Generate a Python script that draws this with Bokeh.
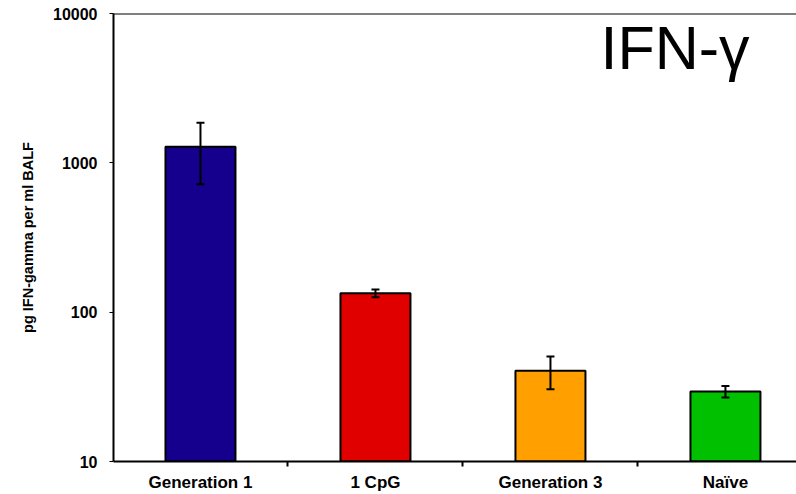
from bokeh.plotting import figure
from bokeh.models import ColumnDataSource, Range1d, FixedTicker, Whisker, TeeHead, Label, Span
from bokeh.embed import file_html
from bokeh.resources import INLINE

categories = ["Generation 1", "1 CpG", "Generation 3", "Naïve"]
means = [1280, 134, 40.5, 29.4]
err_upper = [1855, 142, 50.4, 32]
err_lower = [720, 126, 30.5, 26.8]
colors = ["#14008c", "#e00000", "#ffa000", "#00c000"]
y_ticks = [10, 100, 1000, 10000]

xs = list(range(len(categories)))
src = ColumnDataSource(dict(x=xs, top=means, upper=err_upper, lower=err_lower, color=colors))

FONT = "Liberation Sans"

p = figure(width=796, height=494, output_backend="svg", toolbar_location=None,
           y_axis_type="log", x_range=Range1d(-0.497, 3.406), y_range=Range1d(10, 10000),
           min_border_left=113, min_border_right=0, min_border_top=13, min_border_bottom=30)
p.outline_line_color = None
p.xgrid.visible = False
p.ygrid.visible = False

p.vbar(x="x", top="top", bottom=10, width=0.4, fill_color="color", line_color="black",
       line_width=2, source=src)

w = Whisker(base="x", upper="upper", lower="lower", source=src, line_color="black", line_width=2,
            level="annotation",
            upper_head=TeeHead(size=8, line_width=2, line_color="black"),
            lower_head=TeeHead(size=8, line_width=2, line_color="black"))
p.add_layout(w)

p.add_layout(Span(location=10000, dimension="width", line_color="black", line_width=2))

# x axis
p.xaxis.ticker = FixedTicker(ticks=xs, minor_ticks=[0.5, 1.5, 2.5])
p.xaxis.major_label_overrides = {i: c for i, c in enumerate(categories)}
p.xaxis.major_tick_out = 0
p.xaxis.major_tick_in = 0
p.xaxis.minor_tick_out = 5
p.xaxis.minor_tick_in = 0
p.xaxis.minor_tick_line_width = 2
p.xaxis.axis_line_width = 2
p.xaxis.major_label_text_font = FONT
p.xaxis.major_label_text_font_style = "bold"
p.xaxis.major_label_text_font_size = "17px"
p.xaxis.major_label_text_color = "black"
p.xaxis.major_label_standoff = 6

# y axis
p.yaxis.ticker = FixedTicker(ticks=y_ticks, minor_ticks=[])
p.yaxis.major_label_overrides = {t: str(t) for t in y_ticks}
p.yaxis.axis_line_width = 2
p.yaxis.major_tick_out = 4
p.yaxis.major_tick_in = 0
p.yaxis.major_tick_line_width = 1
p.yaxis.minor_tick_out = 0
p.yaxis.minor_tick_in = 0
p.yaxis.major_label_text_font = FONT
p.yaxis.major_label_text_font_style = "bold"
p.yaxis.major_label_text_font_size = "16px"
p.yaxis.major_label_text_color = "black"
p.yaxis.major_label_standoff = 12
p.yaxis.axis_label = "pg IFN-gamma per ml BALF"
p.yaxis.axis_label_text_font = FONT
p.yaxis.axis_label_text_font_style = "bold"
p.yaxis.axis_label_text_font_size = "14.5px"
p.yaxis.axis_label_text_color = "black"
p.yaxis.axis_label_standoff = 14

p.add_layout(Label(x=2.286, y=4018, y_offset=25, text="IFN-γ", text_font=FONT, text_font_size="61px",
                   text_color="black", text_baseline="alphabetic"))

open("out.html", "w").write(file_html(p, INLINE))
